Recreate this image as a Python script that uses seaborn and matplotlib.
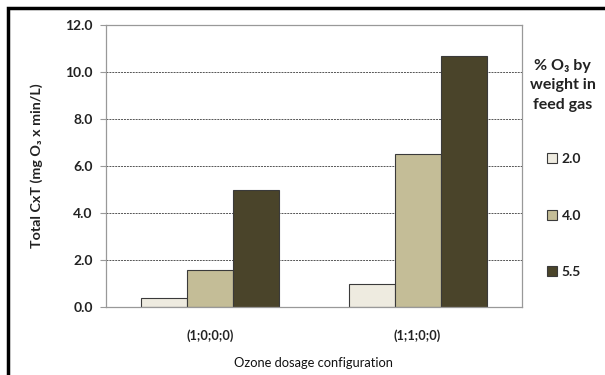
import matplotlib
matplotlib.use("Agg")
import matplotlib.pyplot as plt
import seaborn as sns
import pandas as pd
from matplotlib.patches import Rectangle

configs = ["(1;0;0;0)", "(1;1;0;0)"]
series = ["2.0", "4.0", "5.5"]
values_2_0 = [0.4, 1.0]
values_4_0 = [1.6, 6.5]
values_5_5 = [5.0, 10.7]
yticks = [0.0, 2.0, 4.0, 6.0, 8.0, 10.0, 12.0]
colors = ["#EEEBE0", "#C4BD97", "#4A442A"]

rows = []
for s, vals in zip(series, [values_2_0, values_4_0, values_5_5]):
    for c, v in zip(configs, vals):
        rows.append({"config": c, "pct": s, "cxt": v})
df = pd.DataFrame(rows)

sns.set_theme(style="white")
plt.rcParams["font.family"] = ["Lato", "DejaVu Sans"]

fig = plt.figure(figsize=(6.05, 3.75), dpi=100)
ax = fig.add_axes([0.175, 0.181, 0.687, 0.752])

sns.barplot(data=df, x="config", y="cxt", hue="pct", order=configs,
            hue_order=series, palette=colors, width=0.664, saturation=1,
            edgecolor="#3a3a3a", linewidth=0.8, ax=ax, legend=True)

ax.set_ylim(0, 12)
ax.set_xlim(-0.5, 1.5)
ax.set_yticks(yticks)
ax.set_yticklabels([f"{t:.1f}" for t in yticks], fontsize=10, fontweight="bold",
                   color="#222222")
ax.set_xticks(range(len(configs)))
ax.set_xticklabels(configs, fontsize=9.2, fontweight="bold", color="#222222")
ax.set_xticks([-0.5, 0.5, 1.5], minor=True)
ax.tick_params(axis="x", which="major", length=0, pad=16)
ax.tick_params(axis="x", which="minor", length=5, color="#999999", width=0.8,
               direction="out")
ax.tick_params(axis="y", length=4.5, color="#999999", width=0.8, direction="out", left=True,
               pad=5)

for t in yticks[1:-1]:
    ax.axhline(t, color="#555555", linestyle=(0, (2, 1)), linewidth=0.7, zorder=0)

for sp in ["left", "bottom", "top", "right"]:
    ax.spines[sp].set_visible(True)
    ax.spines[sp].set_color("#999999")
    ax.spines[sp].set_linewidth(0.9)

ax.set_xlabel("Ozone dosage configuration", fontsize=9.3, color="#111111", labelpad=11)
ax.set_ylabel("Total CxT (mg O\u2083 x min/L)", fontsize=10.3, fontweight="bold",
              color="#222222", labelpad=16)

handles, labels = ax.get_legend_handles_labels()
ax.get_legend().remove()
leg = fig.legend(handles, labels, loc="upper left", bbox_to_anchor=(0.893, 0.61),
                 frameon=False, fontsize=10, handlelength=0.7, handleheight=0.7,
                 handletextpad=0.35, labelspacing=3.2, borderpad=0)
for txt in leg.get_texts():
    txt.set_fontweight("bold")
    txt.set_color("#222222")
fig.text(0.930, 0.773, "% O\u2083 by\nweight in\nfeed gas", ha="center", va="center",
         fontsize=11.5, fontweight="bold", color="#222222", linespacing=1.5)

fig.patches.append(Rectangle((0.0132, -0.05), 1.2, 1.03, transform=fig.transFigure,
                             fill=False, edgecolor="black", linewidth=2.5))

fig.savefig("out.png", dpi=100)
